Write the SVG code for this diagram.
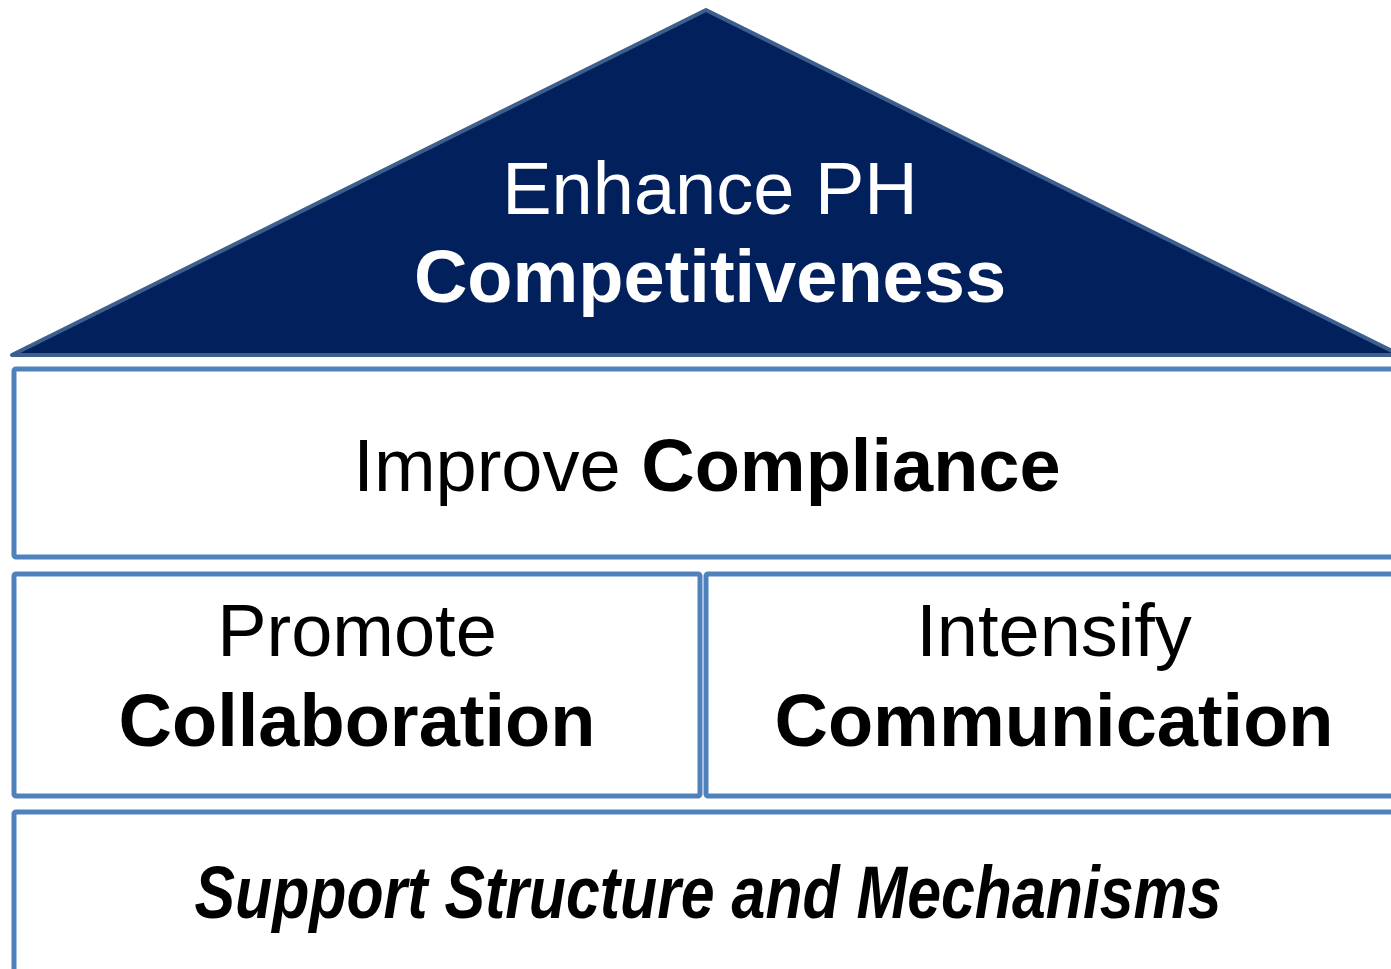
<svg xmlns="http://www.w3.org/2000/svg" width="1391" height="969" viewBox="0 0 1391 969">
<style>
.box{fill:#FFFFFF;stroke:#4F81BD;stroke-width:5}
.t{font-family:"Liberation Sans",Arial,sans-serif;font-size:74px;text-anchor:middle}
.b{font-weight:bold}
</style>
<rect width="1391" height="969" fill="#FFFFFF"/>
<g id="roof">
<polygon points="12,355 706,10 1400,355" fill="#02205B" stroke="#3C5F8E" stroke-width="4" stroke-linejoin="round"/>
<text class="t" x="710" y="214" fill="#FFFFFF">Enhance PH</text>
<text class="t b" x="710" y="302" fill="#FFFFFF">Competitiveness</text>
</g>
<g id="compliance">
<rect class="box" x="14" y="369" width="1400" height="188" rx="2"/>
<text class="t" x="707" y="491" fill="#000000">Improve <tspan font-weight="bold">Compliance</tspan></text>
</g>
<g id="collaboration">
<rect class="box" x="14" y="574" width="686" height="222" rx="2"/>
<text class="t" x="357" y="656" fill="#000000">Promote</text>
<text class="t b" x="357" y="746" fill="#000000">Collaboration</text>
</g>
<g id="communication">
<rect class="box" x="706" y="574" width="708" height="222" rx="2"/>
<text class="t" x="1054" y="656" fill="#000000">Intensify</text>
<text class="t b" x="1054" y="746" fill="#000000">Communication</text>
</g>
<g id="support">
<rect class="box" x="14" y="812" width="1400" height="200" rx="2"/>
<text class="t b" x="708" y="918" font-style="italic" fill="#000000" textLength="1027" lengthAdjust="spacingAndGlyphs">Support Structure and Mechanisms</text>
</g>
<g id="connectors"></g>
</svg>
